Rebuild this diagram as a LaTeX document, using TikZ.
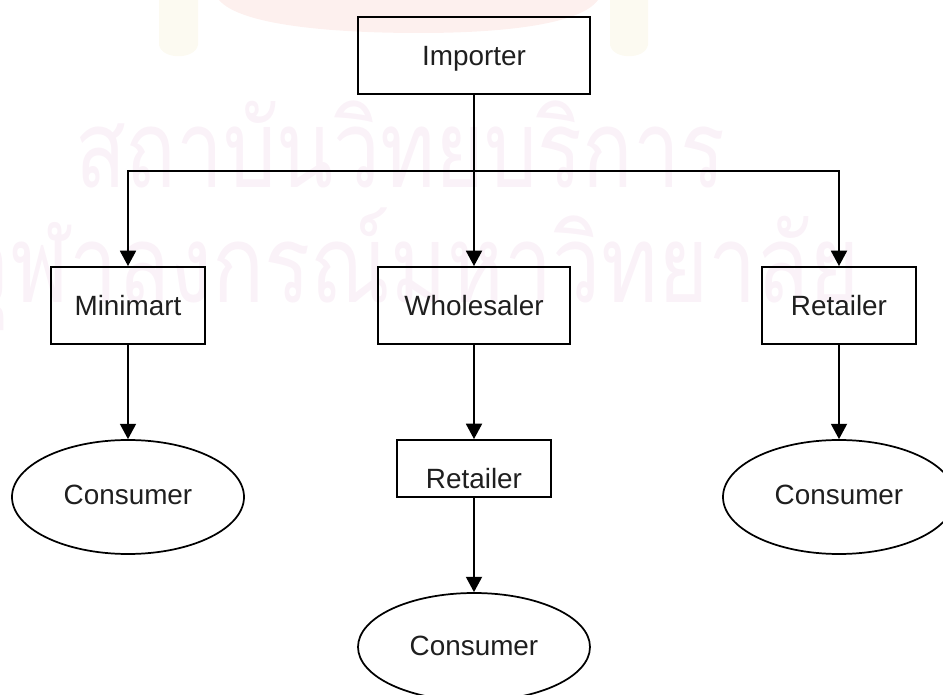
\documentclass[tikz,border=0pt]{standalone}
\usepackage{fontspec}
\usepackage{graphicx}
\setmainfont{Liberation Sans}
\newfontfamily\thaifont[Script=Thai]{Loma}
\usetikzlibrary{arrows.meta,shapes.geometric}
\definecolor{wm}{HTML}{FAF2F8}
\definecolor{wmlogo}{HTML}{FDF0EE}
\definecolor{wmside}{HTML}{FCFAF1}
\tikzset{
  x=0.75pt,y=-0.75pt,
  lbl/.style={font=\fontsize{20.9}{22}\selectfont,text=black!88,text height=14.5pt,text depth=4pt,inner sep=0pt},
  box/.style={lbl,draw,line width=1.4pt,minimum height=57.75pt,text height=19pt},
  oval/.style={lbl,draw,ellipse,line width=1.3pt,minimum width=174pt},
  conn/.style={draw,line width=1.4pt},
  arr/.style={conn,-{Triangle[length=11.5pt,width=12pt]}},
  wmtext/.style={text=wm,inner sep=0pt,font=\thaifont\fontsize{81}{90}\selectfont}
}
\begin{document}
\begin{tikzpicture}
\path[use as bounding box] (0,0) rectangle (943,695);
\clip (0,0) rectangle (943,695);
% watermark
\node[wmtext,anchor=base] (wma) at (400,188) {\resizebox{487.5pt}{\height}{สถาบันวิทยบริการ}};
\node[wmtext,anchor=base] (wmb) at (410,303) {\resizebox{675pt}{\height}{จุฬาลงกรณ์มหาวิทยาลัย}};
\fill[wmlogo] (219,0) .. controls (240,25) and (330,33) .. (420,33) .. controls (500,33) and (580,25) .. (598,0) -- cycle;
\fill[wmside] (159,0) -- (198,0) -- (198,45) .. controls (195,60) and (162,60) .. (159,45) -- cycle;
\fill[wmside] (610,0) -- (648,0) -- (648,45) .. controls (645,60) and (613,60) .. (610,45) -- cycle;
% nodes
\node[box,minimum width=174pt] (imp) at (474,55.5) {Importer};
\node[box,minimum width=115.5pt] (mini) at (128,305.5) {Minimart};
\node[box,minimum width=144pt] (whole) at (474,305.5) {Wholesaler};
\node[box,minimum width=115.5pt] (ret) at (839,305.5) {Retailer};
\node[box,minimum width=115.5pt,minimum height=42.75pt] (ret2) at (474,468.5) {\raisebox{-7.5pt}{Retailer}};
\node[oval,minimum height=85.5pt] (con1) at (128,497) {Consumer};
\node[oval,minimum height=85.5pt] (con2) at (839,497) {Consumer};
\node[oval,minimum height=81pt,text height=17pt] (con3) at (474,647) {Consumer};
\coordinate (j) at (474,171);
% connectors
\draw[conn] (imp.south) -- (j);
\draw[arr] (j) -- (whole.north);
\draw[arr] (j) -| (mini.north);
\draw[arr] (j) -| (ret.north);
\draw[arr] (mini.south) -- (con1.north);
\draw[arr] (whole.south) -- (ret2.north);
\draw[arr] (ret.south) -- (con2.north);
\draw[arr] (ret2.south) -- (con3.north);
\end{tikzpicture}
\end{document}
